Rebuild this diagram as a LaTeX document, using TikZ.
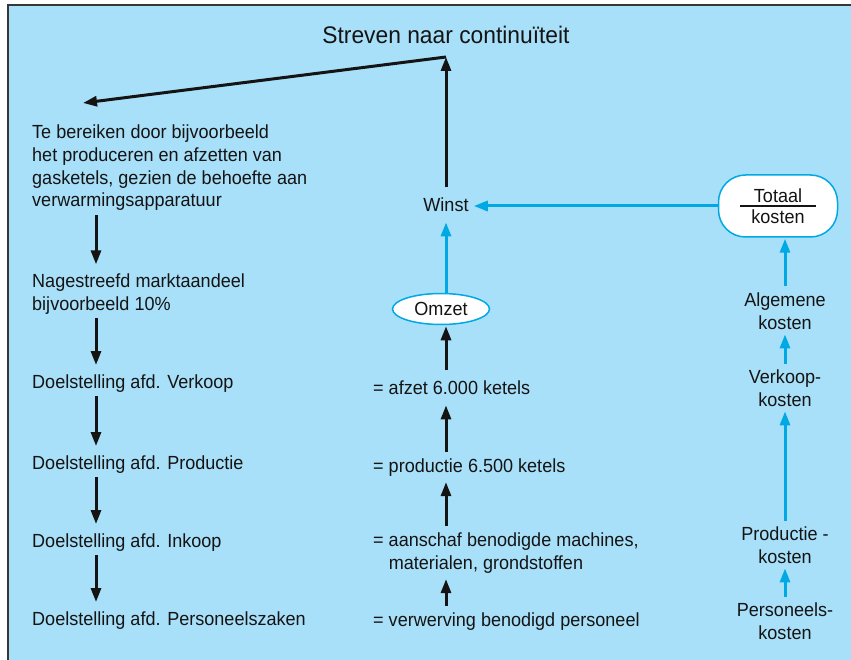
\documentclass[tikz,border=0pt]{standalone}
\usepackage{fontspec}
\setmainfont{Liberation Sans}[FakeStretch=0.95]
\usetikzlibrary{arrows.meta,shapes.geometric}
\definecolor{panel}{RGB}{169,224,249}
\definecolor{frameline}{RGB}{55,55,55}
\definecolor{flowblue}{RGB}{0,168,228}
\definecolor{ink}{RGB}{20,20,20}
\begin{document}
\begin{tikzpicture}[x=1pt,y=-1pt,
  every node/.style={inner sep=0pt, text=ink, font=\fontsize{19}{22.7}\selectfont},
  plaintext/.style={anchor=base west, align=left},
  costtext/.style={anchor=base, align=center, font=\fontsize{19}{23}\selectfont},
  blackarrow/.style={draw=ink, line width=3pt, -{Triangle[length=14pt,width=10pt]}},
  bluearrow/.style={draw=flowblue, line width=3pt, -{Triangle[length=14pt,width=10pt]}},
  bubble/.style={draw=flowblue, fill=white, line width=1.5pt},
]
\useasboundingbox (0,0) rectangle (851,660);
\fill[white] (0,0) rectangle (851,660);
\begin{scope}
  \clip (0,0) rectangle (851,660);
  \filldraw[fill=panel, draw=frameline, line width=2pt] (8,5) rectangle (880,690);
\end{scope}

% goal at the top
\node[anchor=base, font=\fontsize{24}{28}\selectfont] (goal) at (446,44) {Streven naar continuïteit};
\coordinate (apex) at (446,57);
\coordinate (leftend) at (83,103);

% left column: objectives (base = baseline of the last line)
\node[plaintext] (reach) at (32,207) {Te bereiken door bijvoorbeeld\\het produceren en afzetten van\\gasketels, gezien de behoefte aan\\verwarmingsapparatuur};
\node[plaintext] (share) at (32,310) {Nagestreefd marktaandeel\\bijvoorbeeld 10\%};
\node[plaintext] (sales) at (32,388) {Doelstelling afd. Verkoop};
\node[plaintext] (prod) at (32,469) {Doelstelling afd. Productie};
\node[plaintext] (buy) at (32,547) {Doelstelling afd. Inkoop};
\node[plaintext] (hr) at (32,625) {Doelstelling afd. Personeelszaken};

% middle column: revenue side
\node[anchor=base] (profit) at (446,212) {Winst};
\node[bubble, ellipse, minimum width=97pt, minimum height=31pt] (turnover) at (441,309) {Omzet};
\node[plaintext] (volume) at (373,394) {= afzet 6.000 ketels};
\node[plaintext] (output) at (373,472) {= productie 6.500 ketels};
\node[plaintext] (purchase) at (373,569) {= aanschaf benodigde machines,\\\hphantom{= }materialen, grondstoffen};
\node[plaintext] (staff) at (373,626) {= verwerving benodigd personeel};

% right column: costs
\node[bubble, rounded corners=27pt, minimum width=119pt, minimum height=62pt, align=center, font=\fontsize{19}{21.5}\selectfont] (total) at (778,206) {Totaal\\kosten};
\draw[ink, line width=1.2pt] ([xshift=-38pt]total.center) -- ([xshift=38pt]total.center);
\node[costtext] (general) at (785,329) {Algemene\\kosten};
\node[costtext] (salescost) at (785,406) {Verkoop-\\kosten};
\node[costtext] (prodcost) at (785,563) {Productie -\\kosten};
\node[costtext] (staffcost) at (785,639) {Personeels-\\kosten};

% connectors
\draw[blackarrow, shorten <=11pt] (profit.north) -- (apex);
\draw[blackarrow] (apex) -- (leftend);

\draw[blackarrow, shorten <=4pt, shorten >=9pt] ([xshift=64pt]reach.south west) -- ([xshift=64pt]share.north west);
\draw[blackarrow, shorten <=4pt, shorten >=9pt] ([xshift=64pt]share.south west) -- ([xshift=64pt]sales.north west);
\draw[blackarrow, shorten <=4pt, shorten >=9pt] ([xshift=64pt]sales.south west) -- ([xshift=64pt]prod.north west);
\draw[blackarrow, shorten <=4pt, shorten >=9pt] ([xshift=64pt]prod.south west) -- ([xshift=64pt]buy.north west);
\draw[blackarrow, shorten <=4pt, shorten >=9pt] ([xshift=64pt]buy.south west) -- ([xshift=64pt]hr.north west);

\draw[bluearrow, shorten >=10pt] (turnover.north -| profit.south) -- (profit.south);
\draw[blackarrow, shorten <=10pt, shorten >=1pt] (volume.north -| profit.south) -- (turnover.south -| profit.south);
\draw[blackarrow, shorten <=6pt, shorten >=11pt] (output.north -| profit.south) -- (volume.south -| profit.south);
\draw[blackarrow, shorten <=6pt, shorten >=6pt] (purchase.north -| profit.south) -- (output.south -| profit.south);
\draw[blackarrow, shorten <=6pt, shorten >=6pt] (staff.north -| profit.south) -- (purchase.south -| profit.south);

\draw[bluearrow, shorten >=5pt] (total.west) -- (total.west -| profit.east);
\draw[bluearrow, shorten <=6pt, shorten >=1pt] (general.north) -- (total.south -| general.north);
\draw[bluearrow, shorten <=5pt, shorten >=5pt] (salescost.north) -- (general.south);
\draw[bluearrow, shorten <=5pt, shorten >=5pt] (prodcost.north) -- (salescost.south);
\draw[bluearrow, shorten <=5pt, shorten >=5pt] (staffcost.north) -- (prodcost.south);
\end{tikzpicture}
\end{document}
